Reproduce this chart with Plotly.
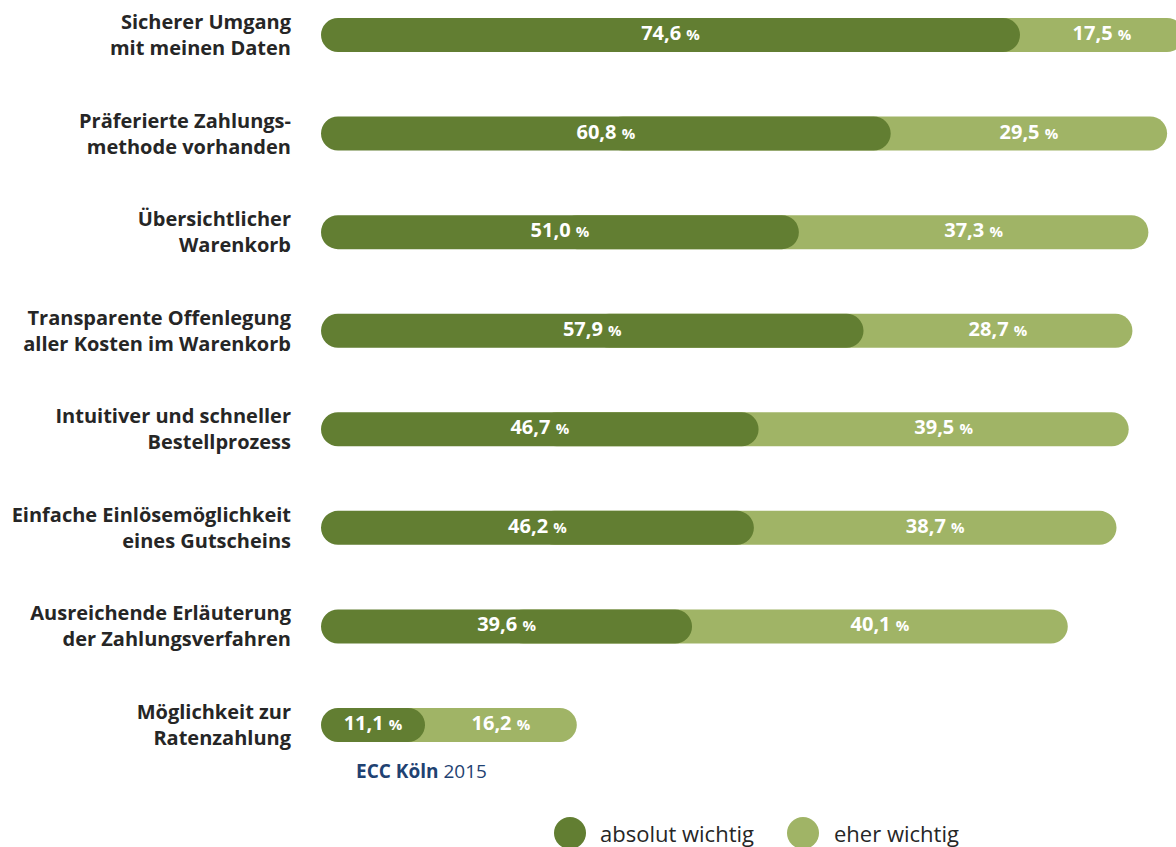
import plotly.graph_objects as go

categories = [
    "Sicherer Umgang<br>mit meinen Daten",
    "Präferierte Zahlungs-<br>methode vorhanden",
    "Übersichtlicher<br>Warenkorb",
    "Transparente Offenlegung<br>aller Kosten im Warenkorb",
    "Intuitiver und schneller<br>Bestellprozess",
    "Einfache Einlösemöglichkeit<br>eines Gutscheins",
    "Ausreichende Erläuterung<br>der Zahlungsverfahren",
    "Möglichkeit zur<br>Ratenzahlung",
]
absolut_wichtig = [74.6, 60.8, 51.0, 57.9, 46.7, 46.2, 39.6, 11.1]
eher_wichtig = [17.5, 29.5, 37.3, 28.7, 39.5, 38.7, 40.1, 16.2]
series_names = ["absolut wichtig", "eher wichtig"]
source_bold = "ECC Köln"
source_year = "2015"

DARK = "#627E32"
LIGHT = "#A0B466"
LABEL = "#262626"
BLUE = "#1F4272"
FONT = "Open Sans"
BAR_W = 0.345

half = [d / 2 for d in absolut_wichtig]
totals = [d + e for d, e in zip(absolut_wichtig, eher_wichtig)]

def fmt(v):
    return f"{v:.1f}".replace(".", ",") + " <span style='font-size:15px'>%</span>"

fig = go.Figure()
# light segment: starts under the dark bar, ends at the total (rounded end)
fig.add_trace(go.Bar(
    y=categories, x=[t - h for t, h in zip(totals, half)], base=half,
    orientation="h", width=BAR_W, marker=dict(color=LIGHT, cornerradius="50%", line=dict(width=0)),
    name=series_names[1], hoverinfo="skip", showlegend=False))
# dark segment: drawn from its end back to 0 so both ends are rounded
fig.add_trace(go.Bar(
    y=categories, x=[-d for d in absolut_wichtig], base=absolut_wichtig,
    orientation="h", width=BAR_W, marker=dict(color=DARK, cornerradius="50%", line=dict(width=0)),
    name=series_names[0], hoverinfo="skip", showlegend=False))

# value labels
fig.add_trace(go.Scatter(
    y=categories, x=half, mode="text", text=[fmt(v) for v in absolut_wichtig],
    textposition="middle center", textfont=dict(family=FONT, size=20, color="white", weight="bold"),
    hoverinfo="skip", showlegend=False, cliponaxis=False))
fig.add_trace(go.Scatter(
    y=categories, x=[d + e / 2 for d, e in zip(absolut_wichtig, eher_wichtig)], mode="text",
    text=[fmt(v) for v in eher_wichtig],
    textposition="middle center", textfont=dict(family=FONT, size=20, color="white", weight="bold"),
    hoverinfo="skip", showlegend=False, cliponaxis=False))

W, H = 1176, 847
L, T, B = 321, 0, 73
plot_h = H - T - B
plot_w = W - L
px_per_unit = 9.37
row = 98.57

fig.update_layout(
    width=W, height=H, margin=dict(l=L, r=0, t=T, b=B),
    barmode="overlay", paper_bgcolor="white", plot_bgcolor="white",
    showlegend=False,
    xaxis=dict(range=[0, plot_w / px_per_unit], visible=False, fixedrange=True),
    yaxis=dict(
        range=[plot_h / row - 35 / row, -35 / row], type="category",
        showgrid=False, zeroline=False, showline=False,
        ticks="outside", ticklen=25, tickcolor="rgba(0,0,0,0)",
        tickfont=dict(family=FONT, size=20, color=LABEL, weight="bold"),
    ),
)

def px_to_paper_x(px):
    return (px - L) / plot_w

def py_to_paper_y(py):
    return (T + plot_h - py) / plot_h

# source
fig.add_annotation(
    x=px_to_paper_x(354), y=py_to_paper_y(771), xref="paper", yref="paper",
    xanchor="left", yanchor="middle", showarrow=False,
    text=f"<b>{source_bold}</b> {source_year}",
    font=dict(family=FONT, size=19, color=BLUE))

# legend
for cx, tx, name, col in [(570, 598, series_names[0], DARK), (803, 832, series_names[1], LIGHT)]:
    fig.add_shape(type="circle", xref="paper", yref="paper",
                  xsizemode="pixel", ysizemode="pixel",
                  xanchor=px_to_paper_x(cx), yanchor=py_to_paper_y(833),
                  x0=-16, x1=16, y0=-16, y1=16,
                  fillcolor=col, line=dict(width=0))
    fig.add_annotation(x=px_to_paper_x(tx), y=py_to_paper_y(833), xref="paper", yref="paper",
                       xanchor="left", yanchor="middle", showarrow=False, text=name,
                       font=dict(family=FONT, size=22, color=LABEL))

fig.write_html("out.html", config={"displayModeBar": False})
